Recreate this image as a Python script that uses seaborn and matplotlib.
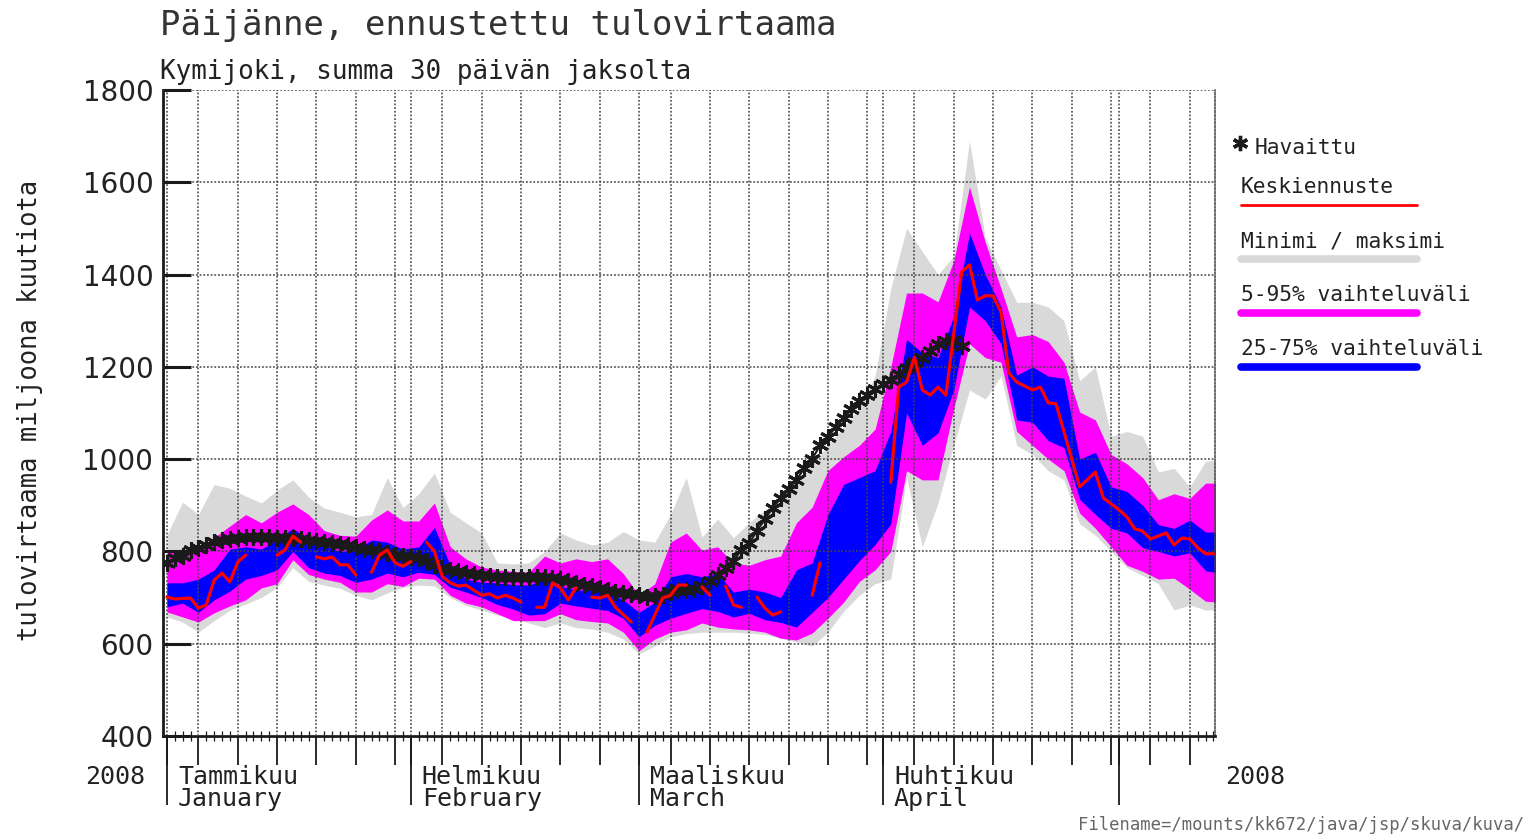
import numpy as np
import pandas as pd
import matplotlib

matplotlib.use('Agg')
import matplotlib.pyplot as plt
import seaborn as sns
from matplotlib.lines import Line2D
from matplotlib.ticker import MultipleLocator, NullLocator

# ==========================================
# Data (days counted from 1.1.2008)
# ==========================================
band_days = list(range(0, 135, 2))

min_vals = [658, 647, 625, 650, 673, 686, 700, 722, 765, 735,
            727, 720, 705, 695, 710, 722, 727, 725, 700, 683,
            673, 662, 655, 645, 635, 645, 635, 632, 625, 610,
            578, 595, 615, 622, 625, 625, 625, 623, 620, 612,
            604, 595, 625, 670, 705, 730, 740, 960, 810, 905,
            1030, 1150, 1130, 1180, 1030, 1010, 975, 955, 860, 835,
            800, 765, 748, 730, 673, 684, 673, 673]
max_vals = [836, 907, 880, 945, 937, 920, 905, 933, 955, 918,
            894, 885, 875, 880, 960, 895, 925, 970, 885, 862,
            840, 775, 773, 775, 800, 840, 825, 814, 820, 843,
            825, 820, 880, 960, 831, 870, 830, 862, 890, 915,
            945, 990, 1030, 1070, 1110, 1180, 1370, 1500, 1450, 1400,
            1440, 1690, 1480, 1410, 1340, 1340, 1330, 1300, 1170, 1200,
            1050, 1060, 1050, 972, 980, 940, 995, 1000]
p5_vals = [669, 658, 647, 667, 682, 695, 721, 730, 782, 750,
           740, 733, 712, 712, 730, 724, 742, 740, 705, 688,
           680, 665, 650, 650, 650, 665, 652, 648, 645, 625,
           585, 610, 625, 630, 645, 636, 632, 630, 625, 612,
           608, 623, 655, 690, 735, 760, 800, 975, 955, 955,
           1110, 1250, 1220, 1210, 1060, 1030, 1000, 975, 883, 850,
           810, 770, 757, 740, 742, 718, 692, 690]
p95_vals = [803, 803, 810, 830, 855, 880, 862, 885, 903, 880,
            845, 835, 833, 868, 890, 866, 866, 905, 810, 784,
            766, 760, 757, 755, 790, 775, 784, 778, 784, 752,
            705, 730, 820, 840, 803, 810, 775, 770, 782, 790,
            862, 896, 975, 1005, 1030, 1065, 1200, 1360, 1360, 1341,
            1430, 1590, 1470, 1370, 1265, 1270, 1255, 1210, 1102, 1085,
            1010, 990, 960, 912, 925, 915, 948, 948]
p25_vals = [680, 688, 668, 695, 714, 740, 748, 760, 800, 765,
            753, 748, 733, 740, 753, 745, 755, 750, 722, 712,
            700, 685, 675, 662, 665, 688, 682, 677, 672, 655,
            615, 640, 655, 666, 676, 670, 658, 666, 652, 646,
            636, 668, 700, 740, 780, 815, 860, 1100, 1030, 1057,
            1150, 1330, 1300, 1250, 1085, 1080, 1040, 1025, 913, 880,
            850, 840, 808, 800, 790, 797, 758, 753]
p75_vals = [732, 732, 740, 760, 805, 810, 805, 825, 850, 825,
            812, 800, 803, 825, 820, 805, 810, 852, 770, 740,
            733, 732, 728, 727, 740, 725, 716, 716, 711, 695,
            668, 690, 745, 752, 745, 752, 712, 718, 712, 700,
            760, 775, 880, 945, 960, 975, 1060, 1260, 1230, 1220,
            1310, 1490, 1400, 1330, 1182, 1200, 1180, 1175, 1000, 1015,
            940, 930, 900, 858, 850, 868, 842, 842]

# Keskiennuste, NaN = katko viivassa
nan = np.nan
med_days = [0, 1, 3, 4, 5, 6, 7, 8, 9, 10, nan,
            14, 15, 16, 17, nan,
            19, 20, 21, 22, 23, 24, nan,
            26, 27, 28, 29, 30, 31, nan,
            33, 34, 35, 36, 37, 38, 39, 40, 41, 42, 43, 44, 45, nan,
            47, 48, 49, 50, 51, 52, nan,
            54, 55, 56, 57, 59, nan,
            61, 63, 64, 65, 66, nan,
            68, 69, nan,
            71, 72, 73, nan,
            75, 76, 77, 78, nan,
            82, 83, nan,
            92, 93, 94, 95, 96, 97, 98, 99, 101, 102, 103, 104, 105, 106, 107, 108,
            110, 111, 112, 113, 116, 118, 119, 121, 122, 123, 124, 125, 127, 128,
            129, 130, 131, 132, 133]
med_vals = [701, 697, 699, 677, 684, 738, 753, 734, 777, 792, nan,
            792, 803, 833, 820, nan,
            788, 784, 788, 771, 771, 749, nan,
            755, 792, 803, 775, 768, 778, nan,
            820, 800, 745, 732, 725, 727, 716, 705, 708, 699, 705, 699, 690, nan,
            679, 679, 732, 721, 695, 721, nan,
            701, 699, 705, 679, 647, nan,
            625, 699, 705, 727, 727, nan,
            723, 705, nan,
            725, 684, 679, nan,
            701, 677, 662, 669, nan,
            705, 775, nan,
            950, 1156, 1167, 1221, 1150, 1139, 1156, 1139, 1406, 1421, 1345, 1354, 1354, 1319, 1187, 1167,
            1150, 1156, 1122, 1120, 940, 972, 916, 890, 875, 849, 844, 827, 840, 814,
            829, 827, 808, 795, 795]

# Havaittu
obs_days = list(range(0, 102))
obs_vals = [775, 785, 790, 803, 808, 815, 820, 825, 828, 830,
            831, 831, 831, 831, 830, 830, 829, 827, 825, 823,
            821, 819, 816, 814, 810, 806, 803, 800, 797, 793,
            790, 787, 786, 780, 770, 764, 760, 757, 754, 751,
            749, 747, 745, 745, 745, 745, 745, 745, 745, 743,
            740, 735, 731, 728, 724, 721, 717, 713, 710, 707,
            705, 702, 703, 706, 712, 716, 716, 718, 725, 735,
            748, 765, 780, 803, 818, 845, 870, 895, 915, 935,
            955, 980, 1000, 1030, 1048, 1070, 1090, 1108, 1125, 1140,
            1152, 1163, 1172, 1185, 1198, 1210, 1220, 1235, 1250, 1255,
            1258, 1245]

month_days = [0, 31, 60, 91, 121]
five_days = [4, 9, 14, 19, 24, 29, 35, 40, 45, 50, 55,
             64, 69, 74, 79, 84, 89, 95, 100, 105, 110, 115, 120, 125, 130]
month_fi = ['Tammikuu', 'Helmikuu', 'Maaliskuu', 'Huhtikuu']
month_en = ['January', 'February', 'March', 'April']
y_ticks = [400, 600, 800, 1000, 1200, 1400, 1600, 1800]

# ==========================================
# Style
# ==========================================
sns.set_theme(style="white")
plt.rcParams['font.family'] = ['DejaVu Sans Mono', 'DejaVu Sans']
plt.rcParams['axes.unicode_minus'] = False

W, H = 1529, 835


def fx(px):
    return px / W


def fy(py):
    return 1 - py / H


fig = plt.figure(figsize=(W / 100, H / 100), dpi=100)
ax = fig.add_axes([fx(163), fy(736), (1215 - 163) / W, (736 - 90) / H])

GRAY, MAGENTA, BLUE, RED = '#d9d9d9', '#ff00ff', '#0000ff', '#ff0000'

ax.fill_between(band_days, min_vals, max_vals, color=GRAY, lw=0, zorder=1)
ax.fill_between(band_days, p5_vals, p95_vals, color=MAGENTA, lw=0, zorder=1.1)
ax.fill_between(band_days, p25_vals, p75_vals, color=BLUE, lw=0, zorder=1.2)

obs = pd.DataFrame({'day': obs_days, 'val': obs_vals})
sns.lineplot(data=obs, x='day', y='val', color='k', lw=1.5, marker=(6, 2, 0),
             markersize=12, markeredgewidth=2.2, markeredgecolor='k',
             ax=ax, zorder=4, legend=False)

med = pd.DataFrame({'day': med_days, 'val': med_vals})
med['seg'] = med['day'].isna().cumsum()
med = med.dropna()
sns.lineplot(data=med, x='day', y='val', units='seg', estimator=None,
             color=RED, lw=2.3, ax=ax, zorder=5, legend=False)

# ==========================================
# Axes
# ==========================================
ax.set_xlim(-0.5, 133.2)
ax.set_ylim(400, 1800)
ax.set_xlabel('')
ax.set_ylabel('')
ax.set_axisbelow(False)

ax.set_xticks(sorted(month_days + five_days))
ax.xaxis.set_minor_locator(MultipleLocator(1))
ax.set_yticks(y_ticks)
ax.grid(True, which='major', color='#444444', linestyle=(0, (1.2, 1.2)), lw=1.1)

ax.tick_params(axis='x', which='major', length=21, width=1.3, direction='out',
               color='k', bottom=True, labelbottom=False)
ax.tick_params(axis='x', which='minor', length=7, width=0.9, direction='inout',
               color='k', bottom=True)
ax.tick_params(axis='y', which='major', length=20, width=2.2, direction='in',
               color='k', left=True, labelsize=20, pad=7, labelcolor='#222222')
for lab in ax.get_yticklabels():
    lab.set_fontfamily('DejaVu Sans')

for side in ['left', 'bottom']:
    ax.spines[side].set_color('k')
    ax.spines[side].set_linewidth(2)
ax.spines['top'].set_visible(False)
ax.spines['right'].set_color('#444444')
ax.spines['right'].set_linestyle((0, (1.2, 1.2)))
ax.spines['right'].set_linewidth(1.1)

sec = ax.secondary_xaxis('bottom')
sec.set_xticks(month_days, labels=[''] * len(month_days))
sec.xaxis.set_minor_locator(NullLocator())
sec.tick_params(axis='x', length=50, width=1.3, direction='out', color='k')
sec.spines['bottom'].set_visible(False)

for d, fi, en in zip(month_days, month_fi, month_en):
    ax.annotate(f'{fi}\n{en}', xy=(d, 0), xycoords=('data', 'axes fraction'),
                xytext=(11, -29), textcoords='offset pixels', ha='left', va='top',
                fontsize=18, linespacing=0.92, color='#222222')

fig.text(fx(85), fy(777), '2008', ha='left', va='center', fontsize=18, color='#222222')
fig.text(fx(1225), fy(777), '2008', ha='left', va='center', fontsize=18, color='#222222')

fig.text(fx(30), fy(410), 'tulovirtaama miljoona kuutiota', rotation=90,
         ha='center', va='center', fontsize=18.4, color='#222222')

# ==========================================
# Titles
# ==========================================
fig.text(fx(160), fy(25), 'Päijänne, ennustettu tulovirtaama', ha='left', va='center',
         fontsize=24.5, color='#333333')
fig.text(fx(160), fy(72), 'Kymijoki, summa 30 päivän jaksolta', ha='left', va='center',
         fontsize=18.6, color='#222222')

# ==========================================
# Legend (drawn by hand: text above a colour bar)
# ==========================================
fig.add_artist(Line2D([fx(1240)], [fy(143)], marker=(6, 2, 0), markersize=11,
                      markeredgewidth=2.4, color='k', transform=fig.transFigure))
fig.text(fx(1255), fy(148), 'Havaittu', ha='left', va='center', fontsize=15.3, color='#222222')

legend_items = [('Keskiennuste', RED, 2.0, 187),
                ('Minimi / maksimi', GRAY, 5.5, 241),
                ('5-95% vaihteluväli', MAGENTA, 5.5, 295),
                ('25-75% vaihteluväli', BLUE, 5.5, 349)]
for label, col, lw, ty in legend_items:
    fig.text(fx(1241), fy(ty), label, ha='left', va='center', fontsize=15.3, color='#222222')
    fig.add_artist(Line2D([fx(1241), fx(1417)], [fy(ty + 18)] * 2, color=col, lw=lw,
                          transform=fig.transFigure))

fig.text(fx(1078), fy(825), 'Filename=/mounts/kk672/java/jsp/skuva/kuva/', ha='left',
         va='center', fontsize=12.4, color='#666666')

fig.savefig('out.png', dpi=100)
plt.close(fig)
